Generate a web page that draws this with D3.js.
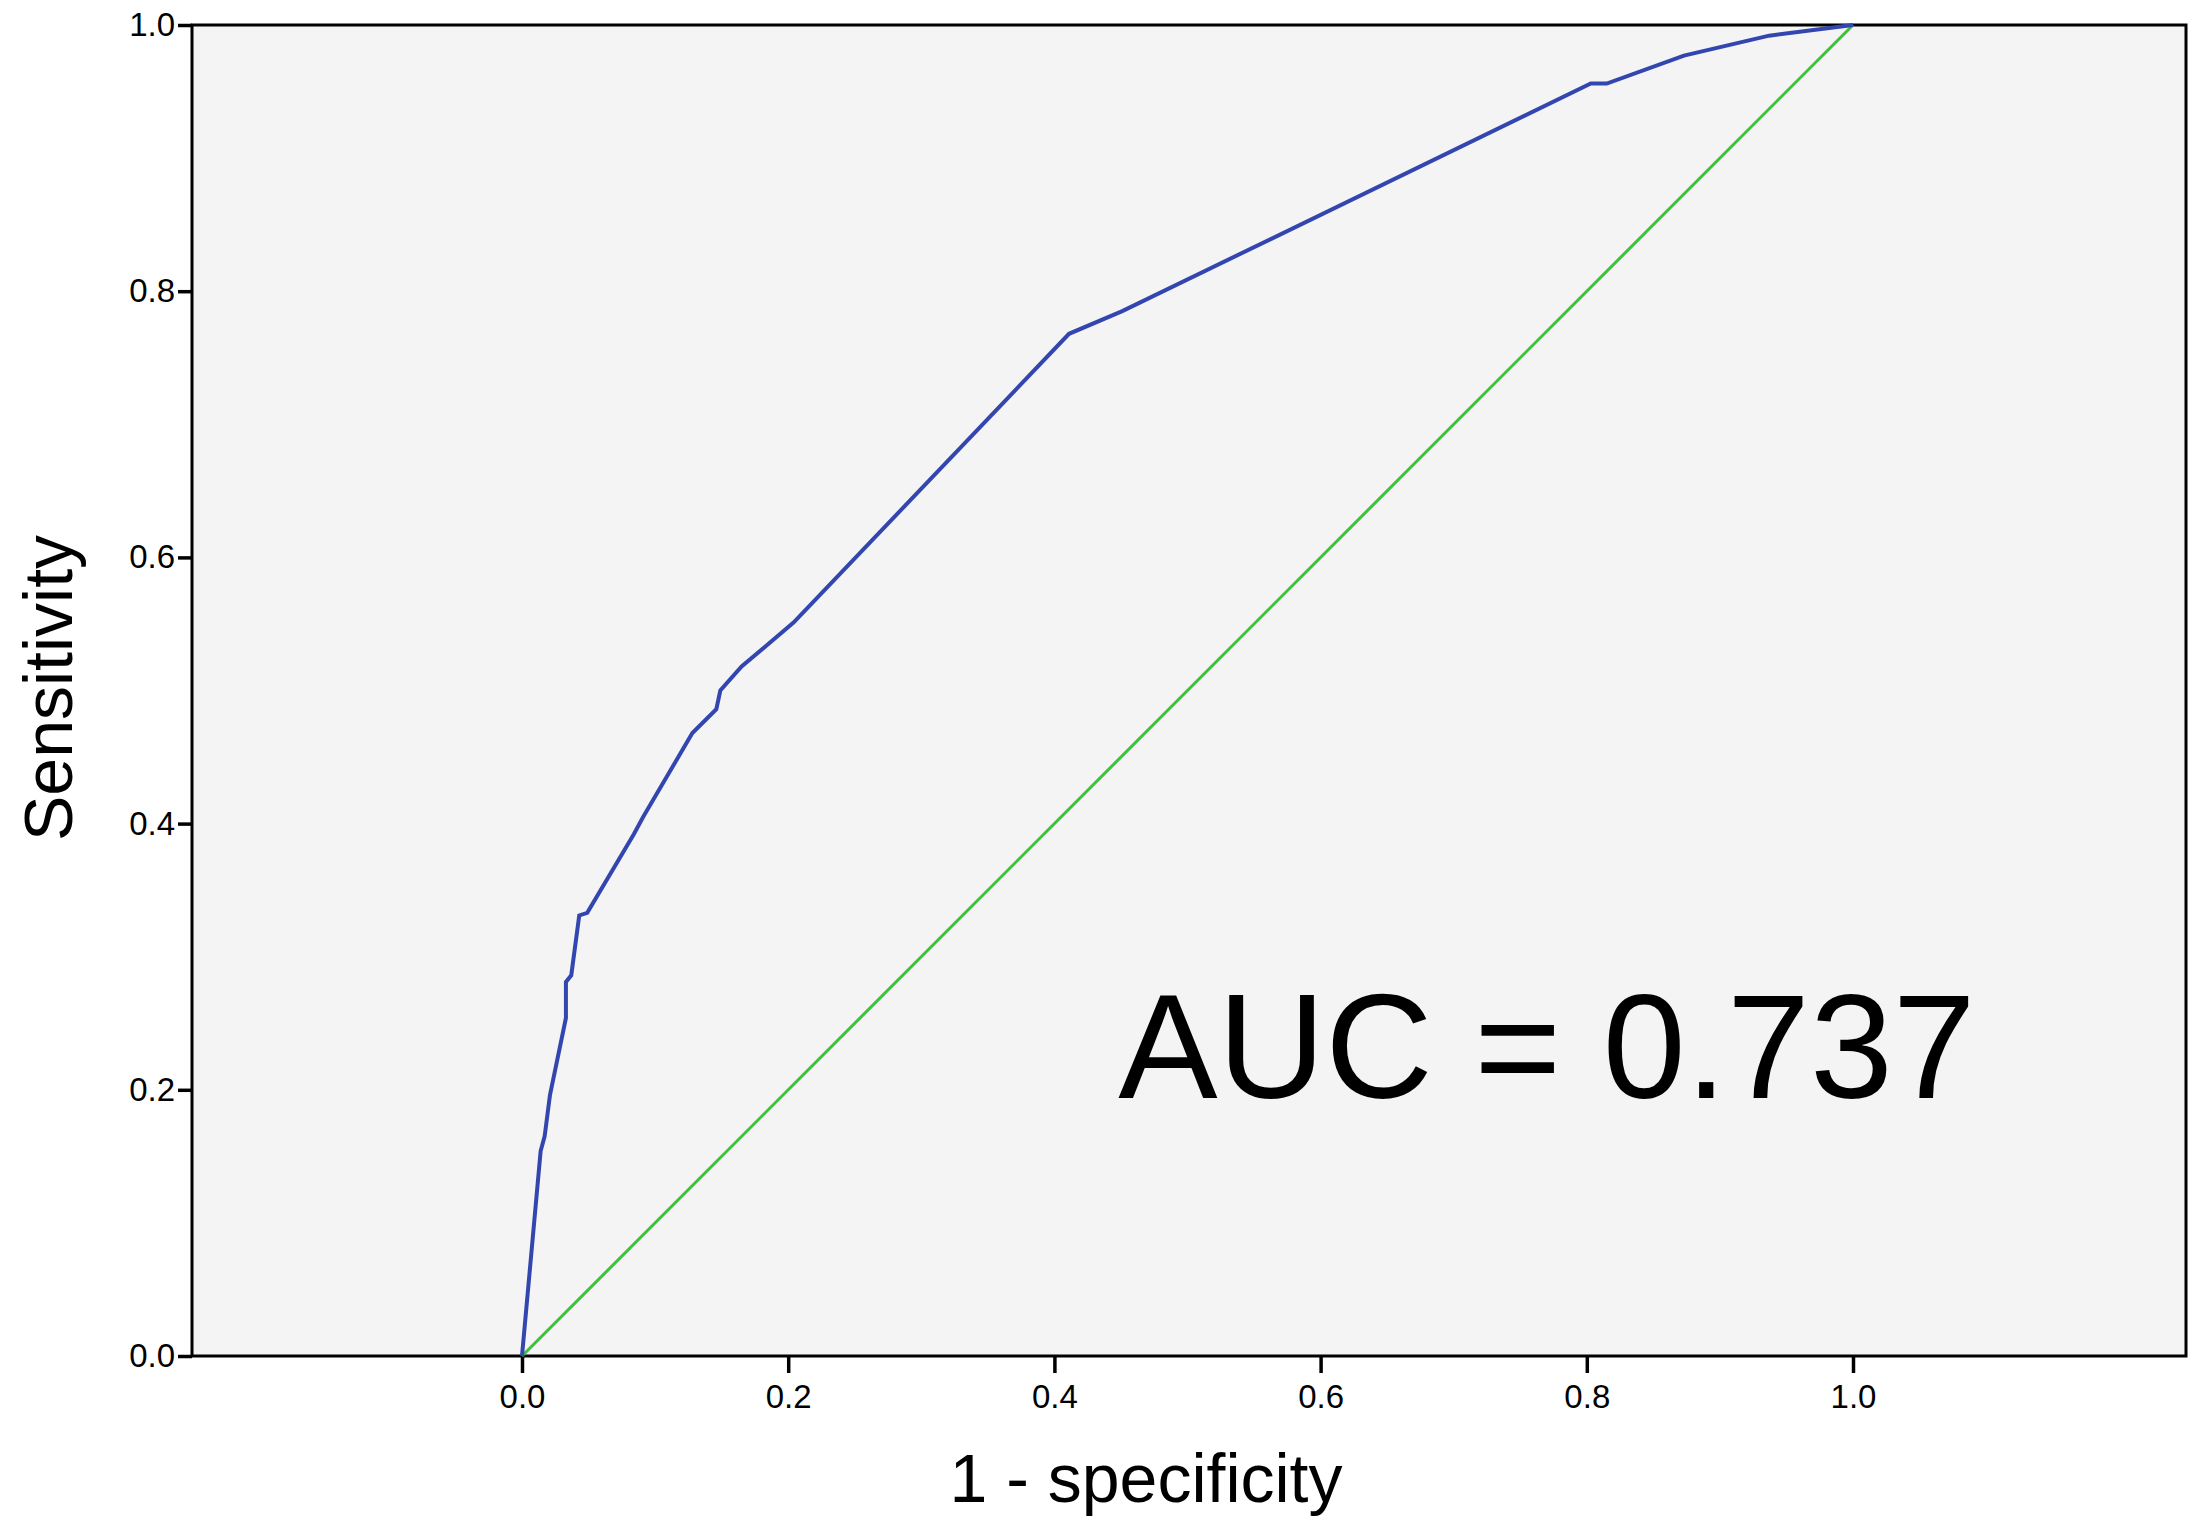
<!DOCTYPE html>
<html>
<head>
<meta charset="utf-8">
<script src="https://cdn.jsdelivr.net/npm/d3@7"></script>
<style>
  body { margin: 0; background: #fff; }
  text { font-family: "Liberation Sans", Arial, sans-serif; }
</style>
</head>
<body>
<div id="chart"></div>
<script>
"use strict";

// ROC curve points
const fpr = [0, 0.014, 0.017, 0.021, 0.033, 0.033, 0.037, 0.043, 0.049, 0.084, 0.091,
  0.128, 0.146, 0.149, 0.165, 0.204, 0.411, 0.451, 0.803, 0.815, 0.873, 0.937, 1];
const tpr = [0, 0.154, 0.165, 0.196, 0.254, 0.281, 0.286, 0.331, 0.333, 0.392, 0.405,
  0.468, 0.486, 0.5, 0.518, 0.551, 0.768, 0.785, 0.956, 0.956, 0.977, 0.992, 1];
const ticks = [0, 0.2, 0.4, 0.6, 0.8, 1.0];
const aucLabel = "AUC = 0.737";

const W = 2201, H = 1529;
const frame = { left: 192, right: 2186, top: 25, bottom: 1356 };

const svg = d3.select("#chart").append("svg")
  .attr("width", W).attr("height", H);

const x = d3.scaleLinear().domain([0, 1]).range([522, 1853]);
const y = d3.scaleLinear().domain([0, 1]).range([frame.bottom, frame.top]);

// plot background + frame
svg.append("rect")
  .attr("x", frame.left).attr("y", frame.top)
  .attr("width", frame.right - frame.left).attr("height", frame.bottom - frame.top)
  .attr("fill", "#f4f4f4").attr("stroke", "#000").attr("stroke-width", 3);

// axes
const xAxis = svg.append("g")
  .attr("transform", `translate(0,${frame.bottom})`)
  .call(d3.axisBottom(x).tickValues(ticks).tickFormat(d3.format(".1f")).tickSize(17).tickPadding(12));
const yAxis = svg.append("g")
  .attr("transform", `translate(${frame.left},0)`)
  .call(d3.axisLeft(y).tickValues(ticks).tickFormat(d3.format(".1f")).tickSize(14).tickPadding(3));
[xAxis, yAxis].forEach(g => {
  g.select(".domain").remove();
  g.selectAll(".tick line").attr("stroke", "#000").attr("stroke-width", 3.5);
  g.selectAll(".tick text").attr("font-size", 33).attr("fill", "#000")
    .style("font-family", "'Liberation Sans', Arial, sans-serif");
});

// reference diagonal
svg.append("line")
  .attr("x1", x(0)).attr("y1", y(0)).attr("x2", x(1)).attr("y2", y(1))
  .attr("stroke", "#3cc23c").attr("stroke-width", 3);

// ROC curve
const pts = fpr.map((d, i) => [d, tpr[i]]);
svg.append("path")
  .datum(pts)
  .attr("d", d3.line().x(d => x(d[0])).y(d => y(d[1])))
  .attr("fill", "none").attr("stroke", "#3346b0").attr("stroke-width", 4);

// labels
svg.append("text")
  .attr("x", 1547).attr("y", 1098)
  .attr("text-anchor", "middle").attr("font-size", 149)
  .text(aucLabel);

svg.append("text")
  .attr("x", 1146).attr("y", 1502)
  .attr("text-anchor", "middle").attr("font-size", 68)
  .text("1 - specificity");

svg.append("text")
  .attr("transform", "translate(72,688) rotate(-90)")
  .attr("text-anchor", "middle").attr("font-size", 68)
  .text("Sensitivity");
</script>
</body>
</html>
